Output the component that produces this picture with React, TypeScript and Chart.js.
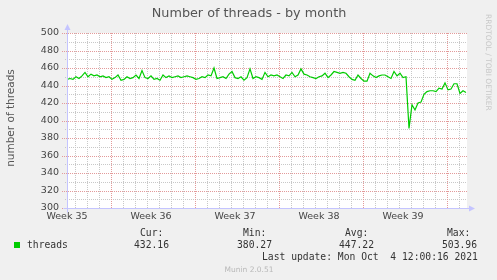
import React, { useEffect, useRef } from "react";
import { Chart, registerables } from "chart.js";

Chart.register(...registerables);

const TITLE = "Number of threads - by month";
const Y_TITLE = "number of threads";
const SIDE_TEXT = "RRDTOOL / TOBI OETIKER";
const WEEK_LABELS = ["Week 35", "Week 36", "Week 37", "Week 38", "Week 39"];
const WEEK_POS_DAYS = [0, 7, 14, 21, 28];
const SPAN_DAYS = 400 / 12;
const STEP_DAYS = 0.25;
const SERIES_NAME = "threads";
const THREADS = [
  447, 448, 447, 450, 448, 451, 455, 450, 453, 451, 452, 450, 451, 449, 450, 447,
  449, 452, 446, 447, 450, 448, 449, 452, 448, 457, 449, 448, 451, 447, 448, 446,
  452, 449, 451, 449, 450, 451, 449, 450, 451, 450, 449, 447, 448, 450, 449, 452,
  451, 460, 448, 449, 450, 448, 453, 456, 449, 448, 450, 446, 449, 459, 448, 450,
  449, 447, 455, 450, 452, 451, 452, 450, 448, 452, 451, 455, 450, 452, 459, 453,
  452, 450, 449, 448, 450, 451, 454, 449, 452, 456, 455, 454, 455, 454, 450, 447,
  446, 452, 448, 445, 445, 454, 451, 449, 451, 452, 452, 450, 448, 456, 451, 454,
  449, 450, 391, 418, 412, 420, 421, 430, 433, 434, 434, 433, 437, 436, 443, 435,
  436, 442, 442, 431, 434, 432,
];
const STAT_HEADERS = ["Cur:", "Min:", "Avg:", "Max:"];
const STAT_VALUES = ["432.16", "380.27", "447.22", "503.96"];
const LAST_UPDATE = "Last update: Mon Oct  4 12:00:16 2021";
const FOOTER = "Munin 2.0.51";

const MAJOR = "#e39a9a";
const MINOR = "#c8c8c8";
const AXIS = "#c4c4ff";
const SANS = "'DejaVu Sans', sans-serif";
const MONO = "'DejaVu Sans Mono', monospace";

const GRID_DAYS: number[] = [];
for (let k = 0; k < 33; k++) GRID_DAYS.push(2 / 3 + k);
const GRID_VALUES: number[] = [];
for (let v = 300; v <= 500; v += 10) GRID_VALUES.push(v);

const muninPlugin = {
  id: "muninDecor",
  beforeDraw(chart: any) {
    const { ctx, chartArea: a } = chart;
    ctx.save();
    ctx.fillStyle = "#f0f0f0";
    ctx.fillRect(0, 0, chart.width, chart.height);
    ctx.fillStyle = "#ffffff";
    ctx.fillRect(a.left, a.top, a.right - a.left, a.bottom - a.top);
    ctx.restore();
  },
  beforeDatasetsDraw(chart: any) {
    const { ctx, chartArea: a, scales } = chart;
    const xs = scales.x;
    const ys = scales.y;
    ctx.save();
    ctx.lineWidth = 1;
    ctx.setLineDash([1, 1]);
    const drawSet = (major: boolean) => {
      ctx.strokeStyle = major ? MAJOR : MINOR;
      ctx.beginPath();
      GRID_DAYS.forEach((d, k) => {
        if (((k - 3) % 7 === 0) !== major) return;
        const px = Math.round(xs.getPixelForValue(d)) + 0.5;
        ctx.moveTo(px, a.top);
        ctx.lineTo(px, a.bottom);
      });
      GRID_VALUES.forEach((v) => {
        if ((v % 20 === 0) !== major) return;
        const py = Math.round(ys.getPixelForValue(v)) + 0.5;
        ctx.moveTo(a.left - (major ? 5 : 2), py);
        ctx.lineTo(a.right, py);
      });
      ctx.stroke();
    };
    drawSet(false);
    drawSet(true);
    ctx.restore();
  },
  afterDraw(chart: any) {
    const { ctx, chartArea: a } = chart;
    ctx.save();
    ctx.strokeStyle = AXIS;
    ctx.fillStyle = AXIS;
    ctx.lineWidth = 1;
    const lx = Math.round(a.left) + 0.5;
    const by = Math.round(a.bottom) + 0.5;
    ctx.beginPath();
    ctx.moveTo(lx, by + 4);
    ctx.lineTo(lx, a.top - 4);
    ctx.moveTo(lx - 4, by);
    ctx.lineTo(a.right + 4, by);
    ctx.stroke();
    ctx.beginPath();
    ctx.moveTo(lx - 3, a.top - 3);
    ctx.lineTo(lx + 3, a.top - 3);
    ctx.lineTo(lx, a.top - 9);
    ctx.closePath();
    ctx.fill();
    ctx.beginPath();
    ctx.moveTo(a.right + 2, by - 3);
    ctx.lineTo(a.right + 2, by + 3);
    ctx.lineTo(a.right + 8, by);
    ctx.closePath();
    ctx.fill();

    ctx.fillStyle = "#555555";
    ctx.font = `12.8px ${SANS}`;
    ctx.textAlign = "center";
    ctx.textBaseline = "middle";
    ctx.fillText(TITLE, 249, 14);

    ctx.save();
    ctx.translate(11, 118);
    ctx.rotate(-Math.PI / 2);
    ctx.font = `10.5px ${SANS}`;
    ctx.fillStyle = "#555555";
    ctx.fillText(Y_TITLE, 0, 0);
    ctx.restore();

    ctx.save();
    ctx.translate(488, 14);
    ctx.rotate(Math.PI / 2);
    ctx.font = `7.5px ${SANS}`;
    ctx.fillStyle = "#c8c8c8";
    ctx.textAlign = "left";
    ctx.fillText(SIDE_TEXT, 0, 0);
    ctx.restore();

    ctx.fillStyle = "#00cc00";
    ctx.fillRect(14, 242, 6, 6);
    ctx.fillStyle = "#333333";
    ctx.font = `9.7px ${MONO}`;
    ctx.textAlign = "left";
    ctx.fillText(SERIES_NAME, 27, 245);
    const hx = [140, 243, 345, 447];
    const vx = [134, 237, 339, 442];
    STAT_HEADERS.forEach((h, i) => ctx.fillText(h, hx[i], 233));
    STAT_VALUES.forEach((v, i) => ctx.fillText(v, vx[i], 245));
    ctx.fillText(LAST_UPDATE, 262, 257);

    ctx.fillStyle = "#b8b8b8";
    ctx.font = `7.5px ${SANS}`;
    ctx.textAlign = "center";
    ctx.fillText(FOOTER, 249, 270);
    ctx.restore();
  },
};

export default function App() {
  const ref = useRef<HTMLCanvasElement | null>(null);

  useEffect(() => {
    if (!ref.current) return;
    const data = THREADS.map((v, i) => ({ x: i * STEP_DAYS, y: v }));

    const chart = new Chart(ref.current, {
      type: "line",
      data: {
        datasets: [
          {
            label: SERIES_NAME,
            data,
            xAxisID: "x",
            yAxisID: "y",
            borderColor: "#00cc00",
            borderWidth: 1.2,
            pointRadius: 0,
            fill: false,
            tension: 0,
          },
        ],
      },
      options: {
        animation: false,
        responsive: false,
        devicePixelRatio: 1,
        layout: { padding: { top: 33, right: 30, bottom: 0, left: 0 } },
        plugins: {
          legend: { display: false },
          title: { display: false },
          tooltip: { enabled: false },
        },
        scales: {
          x: {
            type: "linear",
            position: "bottom",
            min: 0,
            max: SPAN_DAYS,
            afterBuildTicks: (s: any) => {
              s.ticks = WEEK_POS_DAYS.map((v) => ({ value: v }));
            },
            afterFit: (s: any) => {
              s.height = 72;
            },
            ticks: {
              autoSkip: false,
              maxRotation: 0,
              padding: 3,
              color: "#444444",
              font: { family: "DejaVu Sans", size: 9.5 },
              callback: (v: any) => WEEK_LABELS[WEEK_POS_DAYS.indexOf(Number(v))] ?? "",
            },
            grid: { display: false, drawTicks: false },
            border: { display: false },
          },
          y: {
            type: "linear",
            min: 300,
            max: 500,
            afterFit: (s: any) => {
              s.width = 67;
            },
            ticks: {
              stepSize: 20,
              autoSkip: false,
              padding: 8,
              color: "#444444",
              font: { family: "DejaVu Sans", size: 9.5 },
            },
            grid: { display: false, drawTicks: false },
            border: { display: false },
          },
        },
      },
      plugins: [muninPlugin],
    } as any);
    return () => chart.destroy();
  }, []);

  return (
    <div style={{ position: "absolute", left: 0, top: 0, width: 497, height: 280 }}>
      <canvas ref={ref} width={497} height={280} style={{ display: "block" }} />
    </div>
  );
}
